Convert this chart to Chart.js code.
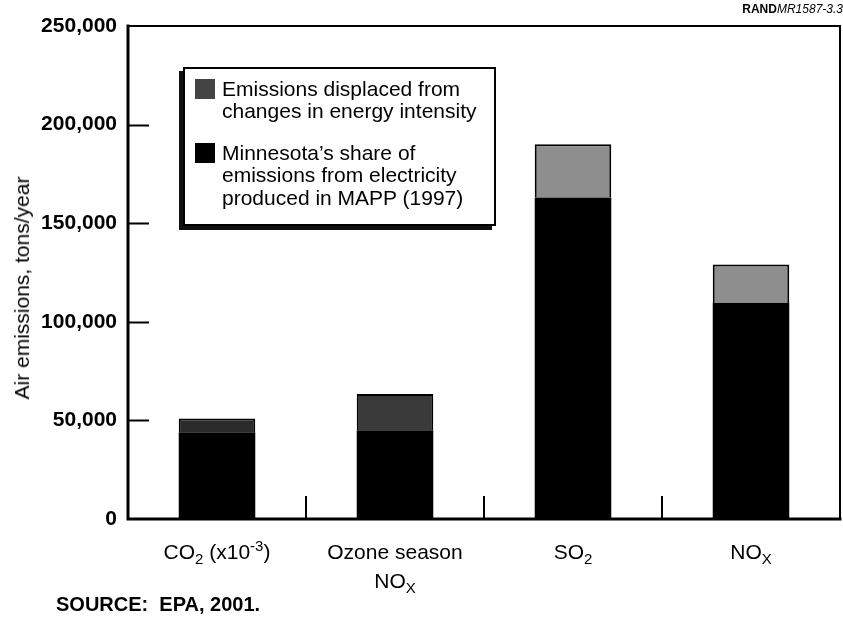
<!DOCTYPE html>
<html>
<head>
<meta charset="utf-8">
<script src="https://cdn.jsdelivr.net/npm/chart.js@4/dist/chart.umd.min.js"></script>
<style>
  html, body { margin: 0; padding: 0; background: #fff; }
  #wrap { position: relative; width: 843px; height: 624px; font-family: "Liberation Sans", Arial, Helvetica, sans-serif; color: #000; }
  #chart { position: absolute; left: 0; top: 0; }
  .rand { position: absolute; right: 0; top: 2px; font-size: 12px; }
  .rand b { font-weight: bold; }
  .rand i { font-style: italic; }
  .ytitle {
    position: absolute; left: 22px; top: 288px; font-size: 21px; white-space: nowrap;
    transform: translate(-50%, -50%) rotate(-90deg);
  }
  .source { position: absolute; left: 56px; top: 593px; font-size: 20px; font-weight: bold; white-space: pre; }
  .legend {
    position: absolute; left: 183px; top: 67px; width: 309px; height: 155px;
    border: 2px solid #000; background: #fff;
    box-shadow: -4px 4px 0 #111;
  }
  .legend-item { position: absolute; left: 10px; font-size: 21px; line-height: 22.5px; }
  .legend-item .sw { position: absolute; left: 0; top: 1px; width: 20px; height: 20px; }
  .legend-item .txt { position: absolute; left: 27px; top: 0; white-space: nowrap; }
</style>
</head>
<body>
<div id="wrap">
  <canvas id="chart" width="843" height="624"></canvas>
  <div class="rand"><b>RAND</b><i>MR1587-3.3</i></div>
  <div class="ytitle">Air emissions, tons/year</div>
  <div class="legend" id="legend"></div>
  <div class="source">SOURCE:  EPA, 2001.</div>
</div>
<script>
// ---- data ----
const categories = ['CO₂ (x10⁻³)', ['Ozone season', 'NOₓ'], 'SO₂', 'NOₓ'];
const minnesotaShare = [44000, 45000, 163000, 109500];
const displaced = [7000, 18400, 27000, 19500];
const yTicks = [0, 50000, 100000, 150000, 200000, 250000];

const seriesLabels = [
  ['Emissions displaced from', 'changes in energy intensity'],
  ['Minnesota’s share of', 'emissions from electricity', 'produced in MAPP (1997)']
];

// ---- styles ----
const FONT = '"Liberation Sans", Arial, Helvetica, sans-serif';
const displacedColors = ['#2a2a2a', '#3a3a3a', '#8e8e8e', '#8e8e8e'];
const legendSwatch = ['#444', '#000'];

Chart.defaults.font.family = FONT;
Chart.defaults.color = '#000';

// unicode sub/superscripts -> drawn as real smaller text
const SUB = { '₂': '2', 'ₓ': 'X' };
const SUP = { '⁻': '-', '³': '3' };

function splitRuns(str) {
  const runs = [];
  for (const ch of str) {
    const kind = SUB[ch] ? 'sub' : SUP[ch] ? 'sup' : 'n';
    const c = SUB[ch] || SUP[ch] || ch;
    const last = runs[runs.length - 1];
    if (last && last.kind === kind) last.text += c;
    else runs.push({ kind, text: c });
  }
  return runs;
}

// category labels under the axis, with proper sub/superscripts
const labelPlugin = {
  id: 'catLabels',
  afterDraw(chart) {
    const { ctx, chartArea: a, scales: { x } } = chart;
    ctx.save();
    ctx.fillStyle = '#000';
    ctx.textBaseline = 'alphabetic';
    ctx.textAlign = 'left';
    const fontFor = k => (k === 'n' ? '21px ' : '15px ') + FONT;
    chart.data.labels.forEach((lab, i) => {
      const lines = Array.isArray(lab) ? lab : [lab];
      const cx = x.getPixelForValue(i);
      lines.forEach((line, li) => {
        const runs = splitRuns(line);
        let w = 0;
        runs.forEach(r => { ctx.font = fontFor(r.kind); r.w = ctx.measureText(r.text).width; w += r.w; });
        let px = cx - w / 2;
        const base = a.bottom + 40 + li * 29;
        runs.forEach(r => {
          ctx.font = fontFor(r.kind);
          const dy = r.kind === 'sub' ? 5 : r.kind === 'sup' ? -8 : 0;
          ctx.fillText(r.text, px, base + dy);
          px += r.w;
        });
      });
    });
    ctx.restore();
  }
};

// frame around the plot and the short inward ticks
const framePlugin = {
  id: 'frame',
  afterDatasetsDraw(chart) {
    const { ctx, chartArea: a, scales: { x, y } } = chart;
    ctx.save();
    ctx.strokeStyle = '#000';
    ctx.lineCap = 'square';

    // top + right (thin)
    ctx.lineWidth = 2;
    ctx.beginPath();
    ctx.moveTo(a.left, a.top);
    ctx.lineTo(a.right, a.top);
    ctx.lineTo(a.right, a.bottom);
    ctx.stroke();

    // left + bottom (thick)
    ctx.lineWidth = 3;
    ctx.beginPath();
    ctx.moveTo(a.left, a.top);
    ctx.lineTo(a.left, a.bottom);
    ctx.lineTo(a.right, a.bottom);
    ctx.stroke();

    // y ticks pointing inward
    ctx.lineWidth = 2;
    yTicks.slice(1, -1).forEach(v => {
      const py = Math.round(y.getPixelForValue(v)) + 0.5;
      ctx.beginPath();
      ctx.moveTo(a.left, py);
      ctx.lineTo(a.left + 20, py);
      ctx.stroke();
    });

    // x ticks between categories
    for (let i = 0; i < categories.length - 1; i++) {
      const px = Math.round((x.getPixelForValue(i) + x.getPixelForValue(i + 1)) / 2);
      ctx.beginPath();
      ctx.moveTo(px, a.bottom);
      ctx.lineTo(px, a.bottom - 22);
      ctx.stroke();
    }
    ctx.restore();
  }
};

new Chart(document.getElementById('chart'), {
  type: 'bar',
  data: {
    labels: categories,
    datasets: [
      {
        label: 'Minnesota’s share of emissions from electricity produced in MAPP (1997)',
        data: minnesotaShare,
        backgroundColor: '#000',
        borderWidth: 0,
        barPercentage: 1,
        categoryPercentage: 0.43
      },
      {
        label: 'Emissions displaced from changes in energy intensity',
        data: displaced,
        backgroundColor: displacedColors,
        borderColor: '#000',
        borderWidth: { top: 2, left: 2, right: 2, bottom: 0 },
        borderSkipped: false,
        barPercentage: 1,
        categoryPercentage: 0.43
      }
    ]
  },
  options: {
    responsive: false,
    animation: false,
    events: [],
    layout: { padding: { top: 26, right: 3, left: 0, bottom: 0 } },
    plugins: {
      legend: { display: false },
      tooltip: { enabled: false }
    },
    scales: {
      x: {
        stacked: true,
        grid: { display: false, drawTicks: false },
        border: { display: false },
        ticks: { display: false },
        afterFit: s => { s.height = 105; }
      },
      y: {
        stacked: true,
        min: 0,
        max: 250000,
        grid: { display: false, drawTicks: false },
        border: { display: false },
        afterBuildTicks: s => { s.ticks = yTicks.map(v => ({ value: v })); },
        ticks: {
          color: '#000',
          padding: 11,
          font: { size: 21, weight: 'bold' },
          callback: v => v.toLocaleString('en-US')
        },
        afterFit: s => { s.width = 128; }
      }
    }
  },
  plugins: [framePlugin, labelPlugin]
});

// HTML legend (multi-line labels)
const legendEl = document.getElementById('legend');
const itemTops = [8.5, 72.5];
seriesLabels.forEach((lines, i) => {
  const item = document.createElement('div');
  item.className = 'legend-item';
  item.style.top = itemTops[i] + 'px';
  item.innerHTML = `<div class="sw" style="background:${legendSwatch[i]}"></div>` +
    `<div class="txt">${lines.join('<br>')}</div>`;
  legendEl.appendChild(item);
});
</script>
</body>
</html>
